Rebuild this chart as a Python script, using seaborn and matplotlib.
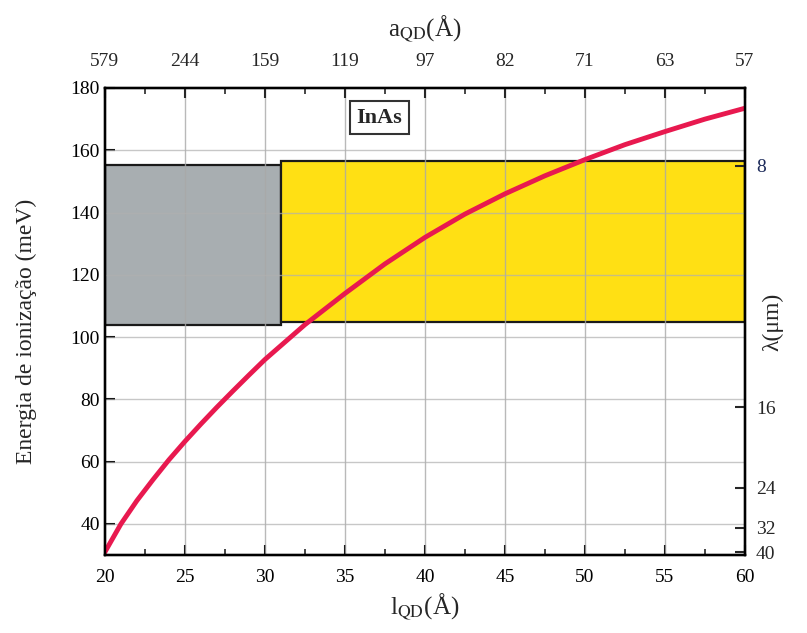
import numpy as np
import pandas as pd
import matplotlib
matplotlib.use("Agg")
import matplotlib.pyplot as plt
import seaborn as sns
from matplotlib.patches import Rectangle
from matplotlib.ticker import MultipleLocator

# ---- data ----
l_qd = [20, 21, 22, 23, 24, 25, 26, 27, 28, 29, 30, 32.5, 35, 37.5, 40, 42.5, 45,
        47.5, 50, 52.5, 55, 57.5, 60]
energy = [31.0, 40.0, 47.5, 54.2, 60.6, 66.5, 72.1, 77.5, 82.7, 87.8, 92.8, 104.0, 114.0,
          123.5, 132.0, 139.5, 146.0, 151.8, 157.0, 161.8, 166.0, 170.0, 173.5]

top_ticks = [20, 25, 30, 35, 40, 45, 50, 55, 60]
top_labels = ["579", "244", "159", "119", "97", "82", "71", "63", "57"]

lambda_um = [8, 16, 24, 32, 40]
lambda_labels = ["8", "16", "24", "32", "40"]

gray_box = dict(x0=20, x1=31, y0=103.8, y1=155.4)
yellow_box = dict(x0=31, x1=60, y0=105.0, y1=156.6)

sns.set_theme(style="ticks")
plt.rcParams['font.family'] = ['Liberation Serif', 'DejaVu Serif']
plt.rcParams['mathtext.fontset'] = 'stix'

fig = plt.figure(figsize=(8.07, 6.33), dpi=100)
ax = fig.add_axes([0.130, 0.123, 0.793, 0.738])

df = pd.DataFrame({"l": l_qd, "E": energy})

# boxes
ax.add_patch(Rectangle((gray_box['x0'], gray_box['y0']), gray_box['x1'] - gray_box['x0'],
                       gray_box['y1'] - gray_box['y0'], facecolor='#a8aeb1', edgecolor='#1a1a1a',
                       linewidth=1.6, zorder=1))
ax.add_patch(Rectangle((yellow_box['x0'], yellow_box['y0']), yellow_box['x1'] - yellow_box['x0'],
                       yellow_box['y1'] - yellow_box['y0'], facecolor='#ffe014', edgecolor='#1a1a1a',
                       linewidth=1.6, zorder=1))

# grid
for xv in [25, 30, 35, 40, 45, 50, 55]:
    ax.axvline(xv, color='#a8a8a8', linewidth=1.0, alpha=0.8, zorder=2)
for yv in [40, 60, 80, 100, 120, 140, 160]:
    ax.axhline(yv, color='#b0b0b0', linewidth=1.0, alpha=0.7, zorder=2)

sns.lineplot(data=df, x="l", y="E", ax=ax, color='#e8194f', linewidth=3.5, zorder=3)

ax.set_xlim(20, 60)
ax.set_ylim(30, 180)
ax.set_xticks(top_ticks)
ax.xaxis.set_minor_locator(MultipleLocator(2.5))
ax.set_yticks([40, 60, 80, 100, 120, 140, 160, 180])
ax.tick_params(axis='both', which='major', direction='in', length=7, width=1.5, labelsize=14,
               colors='black')
ax.tick_params(axis='x', which='minor', direction='in', length=4, width=1.2)
ax.tick_params(axis='x', which='major', pad=10)
for s in ax.spines.values():
    s.set_linewidth(1.6)
    s.set_color('black')

ax.set_xlabel(r"l$_{\mathrm{QD}}$(Å)", fontsize=18, labelpad=4)
ax.set_ylabel("Energia de ionização (meV)", fontsize=17)
ax.yaxis.set_label_coords(-0.106, 0.48)

# top axis
axt = ax.twiny()
axt.set_xlim(ax.get_xlim())
axt.set_xticks(top_ticks)
axt.set_xticklabels(top_labels)
axt.xaxis.set_minor_locator(MultipleLocator(2.5))
axt.tick_params(axis='x', which='major', direction='in', length=7, width=1.5, labelsize=14, pad=13)
axt.tick_params(axis='x', which='minor', direction='in', length=4, width=1.2)
axt.set_xlabel(r"a$_{\mathrm{QD}}$(Å)", fontsize=18, labelpad=12)

# right axis
axr = ax.twinx()
axr.set_ylim(ax.get_ylim())
axr.set_yticks([1240.0 / v for v in lambda_um])
axr.set_yticklabels(lambda_labels)
axr.tick_params(axis='y', which='major', direction='in', length=7, width=1.5, labelsize=14, pad=8)
axr.get_yticklabels()[0].set_color('#1c2a5a')
axr.set_ylabel("λ(μm)", fontsize=17)
axr.yaxis.set_label_coords(1.027, 0.5)
for a in (axt, axr):
    for s in a.spines.values():
        s.set_linewidth(1.6)
        s.set_color('black')

ax.text(37.15, 170.5, "InAs", fontsize=16, fontweight='bold', ha='center', va='center', zorder=5,
        bbox=dict(boxstyle='square,pad=0.3', facecolor='white', edgecolor='#333333', linewidth=1.5))

fig.savefig("out.png", dpi=100)
